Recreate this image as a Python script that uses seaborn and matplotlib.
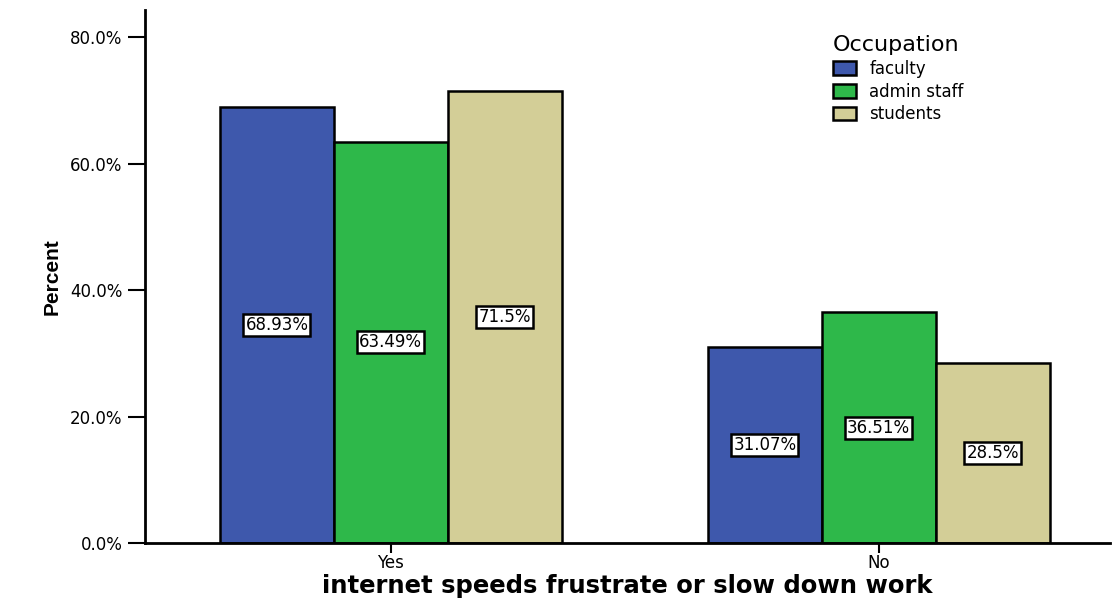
import matplotlib
matplotlib.use("Agg")
import matplotlib.pyplot as plt
import seaborn as sns
import pandas as pd

categories = ["Yes", "No"]
occupations = ["faculty", "admin staff", "students"]
faculty = [68.93, 31.07]
admin_staff = [63.49, 36.51]
students = [71.5, 28.5]
label_text = {"faculty": ["68.93%", "31.07%"],
              "admin staff": ["63.49%", "36.51%"],
              "students": ["71.5%", "28.5%"]}
yticks = [0, 20, 40, 60, 80]
ytick_labels = ["0.0%", "20.0%", "40.0%", "60.0%", "80.0%"]
colors = ["#3E58AC", "#2EB84A", "#D3CE97"]

rows = []
for occ, vals in zip(occupations, [faculty, admin_staff, students]):
    for c, v in zip(categories, vals):
        rows.append({"answer": c, "Occupation": occ, "pct": v})
df = pd.DataFrame(rows)

sns.set_style("white")
plt.rcParams['font.family'] = ['DejaVu Sans']
plt.rcParams['text.color'] = 'black'
plt.rcParams['axes.labelcolor'] = 'black'
plt.rcParams['xtick.color'] = 'black'
plt.rcParams['ytick.color'] = 'black'

fig = plt.figure(figsize=(11.14, 6.01), dpi=100)
ax = fig.add_axes([0.130, 0.0965, 0.866, 0.887])

sns.barplot(data=df, x="answer", y="pct", hue="Occupation", order=categories,
            hue_order=occupations, palette=colors, width=0.7, saturation=1,
            edgecolor="black", linewidth=1.8, ax=ax, legend=True)

for cont, occ in zip(ax.containers, occupations):
    ax.bar_label(cont, labels=label_text[occ], label_type="center", fontsize=12,
                 color="black",
                 bbox=dict(boxstyle="square,pad=0.12", fc="white", ec="black", lw=1.8))

ax.set_xlim(-0.504, 1.473)
ax.set_ylim(0, 84.3)
ax.set_yticks(yticks)
ax.set_yticklabels(ytick_labels, fontsize=12)
ax.tick_params(axis="y", direction="out", length=12, width=1.5, left=True, pad=4)
ax.tick_params(axis="x", direction="out", length=7, width=1.5, bottom=True, labelsize=12, pad=1)
for s in ["top", "right"]:
    ax.spines[s].set_visible(False)
for s in ["left", "bottom"]:
    ax.spines[s].set_linewidth(2)
    ax.spines[s].set_color("black")

ax.set_xlabel("internet speeds frustrate or slow down work", fontsize=17.5,
              fontweight="bold", labelpad=1)
ax.set_ylabel("Percent", fontsize=15, fontweight="bold",
              family=["Liberation Sans"], labelpad=6)

leg = ax.legend(title="Occupation", loc="upper left", bbox_to_anchor=(0.706, 0.965),
                frameon=False, fontsize=12, title_fontsize=16,
                handlelength=1.4, handleheight=0.9, handletextpad=0.8,
                labelspacing=0.28, borderaxespad=0)
leg._legend_box.align = "left"
for t in leg.get_texts():
    t.set_color("black")
leg.get_title().set_color("black")

fig.savefig("out.png", dpi=100)
